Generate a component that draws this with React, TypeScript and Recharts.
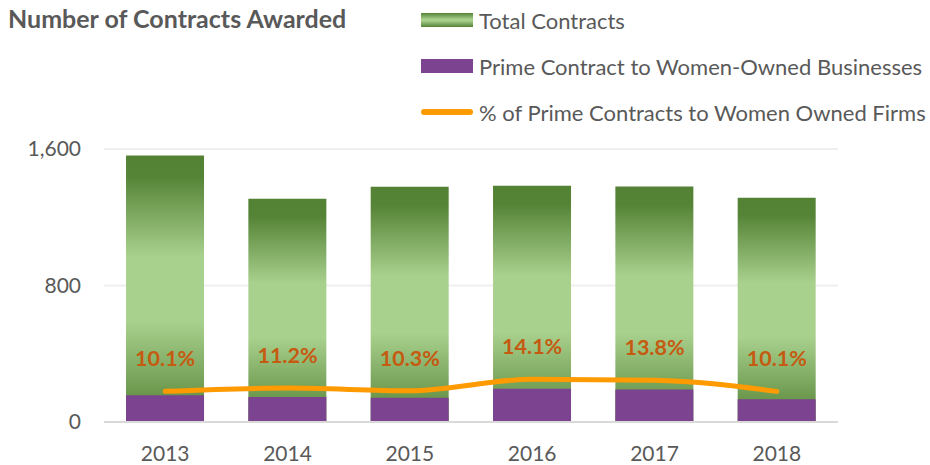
import React from "react";
import {
  ComposedChart,
  Bar,
  Line,
  XAxis,
  YAxis,
  CartesianGrid,
  LabelList,
} from "recharts";

const years = ["2013", "2014", "2015", "2016", "2017", "2018"];
const totalContracts = [1562, 1309, 1379, 1385, 1380, 1315];
const womenOwned = [157, 147, 142, 195, 190, 133];
const pctWomen = [10.1, 11.2, 10.3, 14.1, 13.8, 10.1];
const yTicks = [0, 800, 1600];

const data = years.map((y, i) => ({
  year: y,
  total: totalContracts[i],
  women: womenOwned[i],
  pct: pctWomen[i],
}));

const GRAY = "#595959";
const FONT = "Lato, 'Open Sans', sans-serif";

const legendItems = [
  { key: "total", label: "Total Contracts", kind: "green" },
  { key: "women", label: "Prime Contract to Women-Owned Businesses", kind: "purple" },
  { key: "pct", label: "% of Prime Contracts to Women Owned Firms", kind: "line" },
];

function ChartLegend() {
  return (
    <div style={{ position: "absolute", left: 421, top: 0, fontFamily: FONT }}>
      {legendItems.map((it, i) => (
        <div
          key={it.key}
          style={{
            position: "absolute",
            left: 0,
            top: i * 46.2,
            height: 40,
            display: "flex",
            alignItems: "center",
            whiteSpace: "nowrap",
          }}
        >
          {it.kind === "line" ? (
            <div style={{ width: 52, height: 6, borderRadius: 3, background: "#FF9A00" }} />
          ) : (
            <div
              style={{
                width: 52,
                height: 14,
                background:
                  it.kind === "green"
                    ? "linear-gradient(#548235 0%, #A9D18E 45%, #A9D18E 55%, #548235 100%)"
                    : "#7B4390",
              }}
            />
          )}
          <span style={{ marginLeft: 6, fontSize: 22, color: GRAY }}>{it.label}</span>
        </div>
      ))}
    </div>
  );
}

export default function App() {
  return (
    <div
      style={{
        position: "absolute",
        left: 0,
        top: 0,
        width: 930,
        height: 465,
        background: "#fff",
        fontFamily: FONT,
      }}
    >
      <div
        style={{
          position: "absolute",
          left: 8,
          top: 3,
          fontSize: 25,
          fontWeight: 700,
          color: GRAY,
          whiteSpace: "nowrap",
        }}
      >
        Number of Contracts Awarded
      </div>
      <ChartLegend />
      <ComposedChart
        width={930}
        height={465}
        data={data}
        margin={{ top: 149, right: 92, bottom: 0, left: 0 }}
        barCategoryGap="18%"
        style={{ position: "absolute", left: 0, top: 0 }}
      >
        <defs>
          <linearGradient id="greenGrad" x1="0" y1="0" x2="0" y2="1">
            <stop offset="0%" stopColor="#548235" />
            <stop offset="8%" stopColor="#568437" />
            <stop offset="38%" stopColor="#A9D18E" />
            <stop offset="62%" stopColor="#A9D18E" />
            <stop offset="100%" stopColor="#548235" />
          </linearGradient>
        </defs>
        <CartesianGrid vertical={false} stroke="#EFEFEF" strokeWidth={2} />
        <XAxis
          dataKey="year"
          height={43}
          axisLine={{ stroke: "#D9D9D9", strokeWidth: 2 }}
          tickLine={false}
          tickSize={0}
          tickMargin={24}
          tick={{ fill: GRAY, fontSize: 21, fontFamily: FONT }}
        />
        <XAxis dataKey="year" xAxisId="overlay" hide />
        <YAxis
          width={104}
          domain={[0, 1600]}
          ticks={yTicks}
          axisLine={false}
          tickLine={false}
          tickSize={0}
          tickMargin={23}
          tickFormatter={(v: number) => v.toLocaleString("en-US")}
          tick={{ fill: GRAY, fontSize: 21, fontFamily: FONT }}
        />
        <YAxis yAxisId="pct" orientation="right" domain={[0, 90]} hide />
        <Bar
          dataKey="total"
          name="Total Contracts"
          fill="url(#greenGrad)"
          isAnimationActive={false}
        />
        <Bar
          dataKey="women"
          name="Prime Contract to Women-Owned Businesses"
          xAxisId="overlay"
          fill="#7B4390"
          isAnimationActive={false}
        />
        <Line
          dataKey="pct"
          name="% of Prime Contracts to Women Owned Firms"
          yAxisId="pct"
          type="monotone"
          stroke="#FF9A00"
          strokeWidth={5}
          strokeLinecap="round"
          dot={false}
          activeDot={false}
          isAnimationActive={false}
        >
          <LabelList
            dataKey="pct"
            position="top"
            offset={25}
            formatter={(v: number) => `${v.toFixed(1)}%`}
            fill="#C55A11"
            fontSize={21.5}
            fontWeight={700}
            fontFamily={FONT}
          />
        </Line>
      </ComposedChart>
    </div>
  );
}
